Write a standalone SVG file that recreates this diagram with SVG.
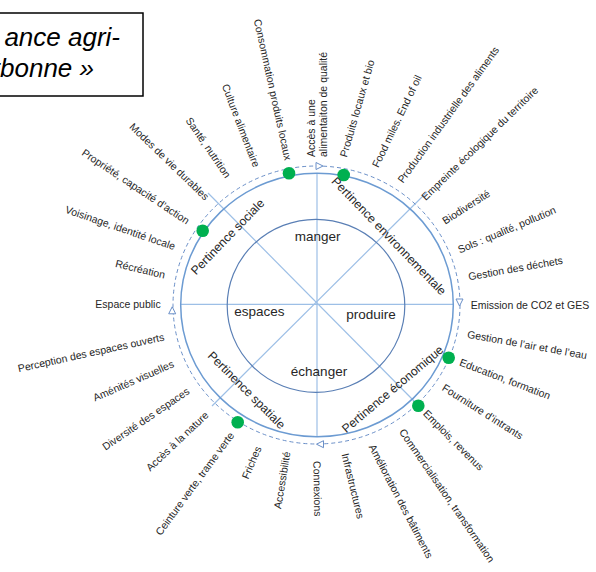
<svg xmlns="http://www.w3.org/2000/svg" width="596" height="572" viewBox="0 0 596 572">
<style>
text{font-family:"Liberation Sans",Arial,sans-serif;fill:#262626}
.l{font-size:10.5px}
.e{text-anchor:end}
.in{font-size:13.5px;text-anchor:middle}
.p{font-size:12.2px;text-anchor:middle}
.t{font-size:26px;font-style:italic;fill:#000}
.ring{fill:none}
.ax{stroke:#9DBFE6;stroke-width:1.2}
.dot{fill:#00B050}
.tri{fill:#fff;stroke:#6A8FC8;stroke-width:1}
</style>
<defs>
<polygon id="tri" points="-3.5,-3.5 3.5,0 -3.5,3.5" class="tri"/>
</defs>
<g id="title">
<rect x="-5" y="13" width="148" height="83" fill="#fff" stroke="#000" stroke-width="1.5"/>
<text class="t" x="120" y="46" text-anchor="end">ance agri-</text>
<text class="t" x="94" y="77" text-anchor="end">rbonne »</text>
</g>
<g id="connectors">
<line class="ax" x1="180.7" y1="304.3" x2="453.3" y2="304.3"/>
<line class="ax" x1="317" y1="173.3" x2="317" y2="436.7"/>
<line class="ax" x1="208" y1="193" x2="416" y2="403"/>
<line class="ax" x1="427" y1="192" x2="212" y2="406"/>
</g>
<g id="rings">
<ellipse class="ring" cx="317" cy="305" rx="136.3" ry="131.7" stroke="#6C9BD2" stroke-width="1.5"/>
<ellipse class="ring" cx="316" cy="305.8" rx="88.8" ry="86.5" stroke="#5A7FB5" stroke-width="1.2"/>
<ellipse class="ring" cx="316.5" cy="305" rx="143.5" ry="139" stroke="#6A8FC8" stroke-width="1" stroke-dasharray="4,3"/>
<use href="#tri" transform="translate(319.5,166)"/>
<use href="#tri" transform="translate(459.5,302.5) rotate(90)"/>
<use href="#tri" transform="translate(320,444.2) rotate(180)"/>
<use href="#tri" transform="translate(172.2,310.3) rotate(-90)"/>
</g>
<g id="dots">
<circle class="dot" cx="289" cy="173.3" r="6.3"/>
<circle class="dot" cx="343.7" cy="175" r="6.3"/>
<circle class="dot" cx="202.7" cy="230.7" r="6.3"/>
<circle class="dot" cx="448.7" cy="357.7" r="6.3"/>
<circle class="dot" cx="418.3" cy="405.7" r="6.3"/>
<circle class="dot" cx="237.7" cy="422.3" r="6.3"/>
</g>
<g id="center-labels">
<text class="in" x="317.7" y="236" dy="0.35em">manger</text>
<text class="in" x="259.3" y="311.7" dy="0.35em">espaces</text>
<text class="in" x="371" y="314" dy="0.35em">produire</text>
<text class="in" x="319" y="371.7" dy="0.35em">échanger</text>
</g>
<g id="pertinence-labels">
<text class="p" transform="translate(227.5,236.7) rotate(-46)" dy="0.35em">Pertinence sociale</text>
<text class="p" transform="translate(389,236) rotate(46)" dy="0.35em">Pertinence environnementale</text>
<text class="p" transform="translate(246.7,390) rotate(45)" dy="0.35em">Pertinence spatiale</text>
<text class="p" transform="translate(392.5,389) rotate(-40)" dy="0.35em">Pertinence économique</text>
</g>
<g id="outer-labels-left">
<text class="l e" transform="translate(288.3,160) rotate(77.6)" dy="0.35em">Consommation produits locaux</text>
<text class="l e" transform="translate(256.7,166.7) rotate(69)" dy="0.35em">Culture alimentaire</text>
<text class="l e" transform="translate(228.3,176.7) rotate(55.6)" dy="0.35em">Santé, nutrition</text>
<text class="l e" transform="translate(207.3,198.3) rotate(44)" dy="0.35em">Modes de vie durables</text>
<text class="l e" transform="translate(188.3,221.7) rotate(33.7)" dy="0.35em">Propriété, capacité d’action</text>
<text class="l e" transform="translate(175,246.7) rotate(19)" dy="0.35em">Voisinage, identité locale</text>
<text class="l e" transform="translate(165,275) rotate(13.4)" dy="0.35em">Récréation</text>
<text class="l e" transform="translate(160.7,304)" dy="0.35em">Espace public</text>
<text class="l e" transform="translate(164,336.7) rotate(-12.3)" dy="0.35em">Perception des espaces ouverts</text>
<text class="l e" transform="translate(173.3,363.3) rotate(-23.6)" dy="0.35em">Aménités visuelles</text>
<text class="l e" transform="translate(188.3,390) rotate(-34.2)" dy="0.35em">Diversité des espaces</text>
<text class="l e" transform="translate(206.7,413.3) rotate(-43.4)" dy="0.35em">Accès à la nature</text>
<text class="l e" transform="translate(231.7,433.3) rotate(-53.7)" dy="0.35em">Ceinture verte, trame verte</text>
<text class="l e" transform="translate(258.3,446.7) rotate(-67)" dy="0.35em">Friches</text>
<text class="l e" transform="translate(286.7,451.7) rotate(-80.8)" dy="0.35em">Accessibilité</text>
</g>
<g id="outer-labels-right">
<text class="l" transform="translate(317,461) rotate(89)" dy="0.35em">Connexions</text>
<text class="l" transform="translate(345,453.3) rotate(76.3)" dy="0.35em">Infrastructures</text>
<text class="l" transform="translate(371.7,445) rotate(62.5)" dy="0.35em">Amélioration des bâtiments</text>
<text class="l" transform="translate(401.7,430) rotate(55.4)" dy="0.35em">Commercialisation, transformation</text>
<text class="l" transform="translate(425,411.7) rotate(45)" dy="0.35em">Emplois, revenus</text>
<text class="l" transform="translate(443.3,386.7) rotate(32.4)" dy="0.35em">Fourniture d’intrants</text>
<text class="l" transform="translate(460,361.7) rotate(21)" dy="0.35em">Education, formation</text>
<text class="l" transform="translate(467.3,334) rotate(10.2)" dy="0.35em">Gestion de l’air et de l’eau</text>
<text class="l" transform="translate(470.7,305.3)" dy="0.35em">Emission de CO2 et GES</text>
<text class="l" transform="translate(468.3,276.7) rotate(-10)" dy="0.35em">Gestion des déchets</text>
<text class="l" transform="translate(458.3,250) rotate(-22.7)" dy="0.35em">Sols : qualité, pollution</text>
<text class="l" transform="translate(443.3,221.7) rotate(-32.7)" dy="0.35em">Biodiversité</text>
<text class="l" transform="translate(423.3,198.3) rotate(-44.2)" dy="0.35em">Empreinte écologique du territoire</text>
<text class="l" transform="translate(400,181.7) rotate(-54.2)" dy="0.35em">Production industrielle des aliments</text>
<text class="l" transform="translate(375,166.7) rotate(-64.3)" dy="0.35em">Food miles. End of oil</text>
<text class="l" transform="translate(343.3,156.7) rotate(-74)" dy="0.35em">Produits locaux et bio</text>
<text class="l" transform="translate(311.7,157) rotate(-90)" dy="0.35em">Accès à une</text>
<text class="l" transform="translate(323.3,157) rotate(-90)" dy="0.35em">alimentaiton de qualité</text>
</g>
</svg>
